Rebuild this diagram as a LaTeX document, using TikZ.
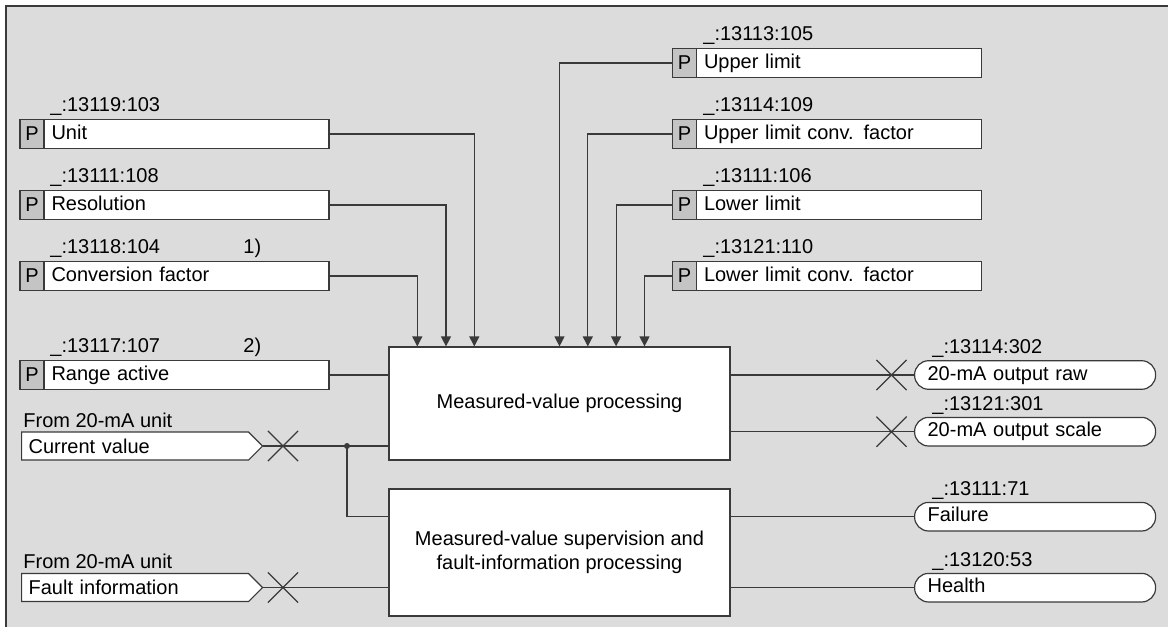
\documentclass[tikz,border=0pt]{standalone}
\usepackage{fontspec}
\setmainfont{Liberation Sans}
\usetikzlibrary{positioning,shapes.symbols,shapes.misc,arrows.meta}
\definecolor{bggray}{HTML}{DCDCDC}
\definecolor{pgray}{HTML}{C4C4C4}
\definecolor{ln}{HTML}{3A3A3A}
\tikzset{
  pcell/.style={draw=ln, fill=pgray, line width=0.6pt, minimum width=12pt,
    minimum height=14.5pt, inner sep=0pt, outer sep=0pt},
  parbox/.style={draw=ln, fill=white, line width=0.6pt, text width=135pt,
    align=left, minimum height=14.5pt, inner xsep=3.75pt, inner ysep=0pt,
    outer sep=0pt, text height=7.2pt, text depth=2.1pt},
  insig/.style={signal, signal to=east, signal pointer angle=90, draw=ln,
    fill=white, line width=0.6pt, text width=106.5pt, align=left,
    minimum height=14pt, inner xsep=3.5pt, inner ysep=0pt},
  outpill/.style={draw=ln, fill=white, line width=0.6pt, rounded corners=7pt,
    text width=107.5pt, align=left, minimum height=14.3pt, inner xsep=6.5pt,
    inner ysep=0pt, text height=7.2pt, text depth=2.1pt},
  fbox/.style={draw=ln, fill=white, line width=0.6pt, minimum width=170.5pt,
    align=center},
  xmark/.style={cross out, draw=ln, line width=0.6pt, minimum size=14.5pt,
    inner sep=0pt},
  lbl/.style={anchor=base west, inner sep=0pt},
  conn/.style={draw=ln, line width=0.6pt},
  arr/.style={conn, -{Triangle[length=5pt,width=5pt]}}
}
\begin{document}
\begin{tikzpicture}[x=0.5pt, y=-0.5pt, font=\fontsize{10}{11.7}\selectfont]
  \useasboundingbox (0,0) rectangle (1168,627);
  \fill[bggray] (6,6) rectangle (1168,627);
  \draw[ln, line width=1pt] (6,627) -- (6,6) -- (1168,6);

  % parameters, left
  \node[lbl] at (50,111) {\_:13119:103};
  \node[pcell] (p1) at (32,134) {P};
  \node[parbox, right=0pt of p1] (unit) {Unit};
  \node[lbl] at (50,182) {\_:13111:108};
  \node[pcell] (p2) at (32,205) {P};
  \node[parbox, right=0pt of p2] (res) {Resolution};
  \node[lbl] at (50,253) {\_:13118:104};
  \node[lbl] at (243,253) {1)};
  \node[pcell] (p3) at (32,276) {P};
  \node[parbox, right=0pt of p3] (conv) {Conversion factor};
  \node[lbl] at (50,352) {\_:13117:107};
  \node[lbl] at (243,352) {2)};
  \node[pcell] (p4) at (32,375) {P};
  \node[parbox, right=0pt of p4] (range) {Range active};

  % parameters, right
  \node[lbl] at (703,40) {\_:13113:105};
  \node[pcell] (p5) at (684.5,63) {P};
  \node[parbox, right=0pt of p5] (upper) {Upper limit};
  \node[lbl] at (703,111) {\_:13114:109};
  \node[pcell] (p6) at (684.5,134) {P};
  \node[parbox, right=0pt of p6] (upconv) {Upper limit conv. factor};
  \node[lbl] at (703,182) {\_:13111:106};
  \node[pcell] (p7) at (684.5,205) {P};
  \node[parbox, right=0pt of p7] (lower) {Lower limit};
  \node[lbl] at (703,253) {\_:13121:110};
  \node[pcell] (p8) at (684.5,276) {P};
  \node[parbox, right=0pt of p8] (loconv) {Lower limit conv. factor};

  % inputs
  \node[lbl] at (23,427) {From 20-mA unit};
  \node[insig, anchor=west] (cur) at (21,446) {Current value};
  \node[lbl] at (23,568) {From 20-mA unit};
  \node[insig, anchor=west] (fault) at (21,587.5) {Fault information};

  % function blocks
  \node[fbox, minimum height=56.5pt] (proc) at (559.5,403.5) {Measured-value processing};
  \node[fbox, minimum height=63.5pt] (sup) at (559.5,552.5)
    {Measured-value supervision and\\fault-information processing};

  % outputs
  \node[lbl] at (932,353) {\_:13114:302};
  \node[outpill, anchor=west] (raw) at (914,375) {20-mA output raw};
  \node[lbl] at (932,410) {\_:13121:301};
  \node[outpill, anchor=west] (scale) at (914,431.7) {20-mA output scale};
  \node[lbl] at (932,495) {\_:13111:71};
  \node[outpill, anchor=west] (fail) at (914,516.7) {Failure};
  \node[lbl] at (932,566) {\_:13120:53};
  \node[outpill, anchor=west] (health) at (914,587.7) {Health};

  \draw[arr] (unit.east) -| ([xshift=-42.6pt]proc.north);
  \draw[arr] (res.east) -| ([xshift=-56.75pt]proc.north);
  \draw[arr] (conv.east) -| ([xshift=-71.1pt]proc.north);
  \draw[arr] (p5.west) -| (proc.north);
  \draw[arr] (p6.west) -| ([xshift=14.15pt]proc.north);
  \draw[arr] (p7.west) -| ([xshift=28.3pt]proc.north);
  \draw[arr] (p8.west) -| ([xshift=42.5pt]proc.north);
  \draw[conn] (range.east) -- (range.east -| proc.west);
  \draw[conn] (cur.east) -- (cur.east -| proc.west);
  \coordinate (jn) at (347,446);
  \fill[ln] (jn) circle (1.5pt);
  \draw[conn] (jn) |- ([yshift=-14.1pt]sup.north west);
  \draw[conn] (fault.east) -- (fault.east -| sup.west);
  \draw[conn] (proc.east |- raw.west) -- (raw.west);
  \draw[conn] (proc.east |- scale.west) -- (scale.west);
  \draw[conn] (sup.east |- fail.west) -- (fail.west);
  \draw[conn] (sup.east |- health.west) -- (health.west);

  \node[xmark] (xa) at (283,446) {};
  \node[xmark] (xb) at (283,587.5) {};
  \node[xmark] (xc) at (891.5,375) {};
  \node[xmark] (xd) at (891.5,431.7) {};
\end{tikzpicture}
\end{document}
